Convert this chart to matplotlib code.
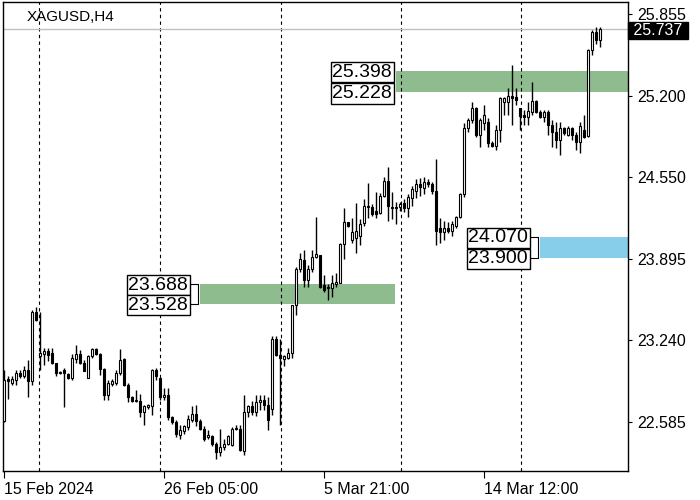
import numpy as np
import matplotlib.pyplot as plt
from matplotlib.transforms import blended_transform_factory

simbolo = "XAGUSD,H4"

# OHLC das velas H4
abertura = [22.59, 22.93, 22.90, 22.92, 22.98, 22.95, 23.00, 22.91, 23.47, 23.11,
            23.13, 23.15, 23.14, 23.06, 22.98, 23.00, 22.97, 22.94, 23.09, 23.13,
            23.06, 22.94, 23.11, 23.17, 23.13, 23.01, 22.80, 22.89, 22.90, 22.98,
            23.09, 22.88, 22.78, 22.75, 22.75, 22.66, 22.70, 22.71, 23.00, 22.94,
            22.78, 22.80, 22.62, 22.58, 22.48, 22.51, 22.54, 22.60, 22.65, 22.59,
            22.53, 22.46, 22.47, 22.41, 22.34, 22.38, 22.41, 22.40, 22.53, 22.53,
            22.35, 22.66, 22.71, 22.66, 22.74, 22.76, 22.72, 22.69, 23.25, 23.12,
            23.09, 23.10, 23.14, 23.52, 23.81, 23.88, 23.72, 23.81, 23.91, 23.92,
            23.68, 23.67, 23.66, 23.69, 23.70, 24.01, 24.19, 24.04, 24.06, 24.08,
            24.18, 24.32, 24.31, 24.28, 24.26, 24.40, 24.52, 24.31, 24.30, 24.31,
            24.34, 24.30, 24.38, 24.44, 24.49, 24.46, 24.51, 24.49, 24.44, 24.14,
            24.11, 24.14, 24.12, 24.16, 24.23, 24.41, 24.94, 25.01, 25.10, 24.89,
            24.98, 24.99, 24.82, 24.80, 24.93, 25.15, 25.15, 25.20, 25.19, 25.10,
            25.05, 25.03, 25.07, 25.16, 25.07, 25.03, 25.07, 24.97, 24.91, 24.85,
            24.94, 24.89, 24.94, 24.89, 24.83, 24.93, 24.88, 25.57, 25.71, 25.65]
maxima = [23.00, 22.95, 22.95, 23.00, 23.00, 23.03, 23.08, 23.48, 23.51, 23.47,
          23.18, 23.18, 23.18, 23.06, 22.99, 23.02, 22.98, 23.13, 23.20, 23.16,
          23.08, 23.12, 23.18, 23.18, 23.14, 23.02, 22.92, 22.93, 23.00, 23.17,
          23.10, 22.90, 22.79, 22.84, 22.81, 22.72, 22.73, 23.01, 23.02, 22.94,
          22.86, 22.86, 22.63, 22.60, 22.56, 22.56, 22.64, 22.71, 22.72, 22.61,
          22.55, 22.52, 22.48, 22.42, 22.53, 22.45, 22.48, 22.54, 22.56, 22.56,
          22.80, 22.72, 22.75, 22.80, 22.80, 22.80, 22.78, 23.27, 23.27, 23.25,
          23.12, 23.18, 23.52, 23.83, 23.94, 23.96, 23.84, 23.96, 24.23, 23.92,
          23.76, 23.69, 23.76, 23.78, 24.02, 24.30, 24.19, 24.22, 24.34, 24.21,
          24.37, 24.50, 24.33, 24.43, 24.42, 24.55, 24.63, 24.43, 24.35, 24.35,
          24.37, 24.41, 24.48, 24.53, 24.54, 24.55, 24.53, 24.51, 24.69, 24.22,
          24.20, 24.19, 24.20, 24.24, 24.42, 24.98, 25.02, 25.15, 25.11, 25.02,
          25.13, 25.02, 24.84, 24.97, 25.19, 25.19, 25.26, 25.45, 25.26, 25.10,
          25.09, 25.15, 25.31, 25.17, 25.09, 25.09, 25.09, 25.01, 24.99, 24.99,
          24.95, 24.96, 24.95, 24.91, 24.99, 25.05, 25.58, 25.73, 25.75, 25.75]
minima = [22.58, 22.77, 22.88, 22.88, 22.94, 22.94, 22.78, 22.88, 23.39, 23.00,
          23.04, 23.07, 23.05, 22.95, 22.97, 22.70, 22.93, 22.92, 23.06, 23.05,
          22.99, 22.94, 23.10, 23.12, 22.96, 22.76, 22.76, 22.87, 22.88, 22.96,
          22.87, 22.74, 22.74, 22.74, 22.62, 22.56, 22.69, 22.64, 22.92, 22.76,
          22.76, 22.60, 22.57, 22.46, 22.45, 22.49, 22.52, 22.58, 22.55, 22.52,
          22.43, 22.45, 22.39, 22.29, 22.31, 22.36, 22.40, 22.39, 22.52, 22.35,
          22.32, 22.62, 22.64, 22.63, 22.68, 22.68, 22.52, 22.64, 23.11, 22.56,
          23.03, 23.09, 23.10, 23.44, 23.79, 23.67, 23.67, 23.79, 23.90, 23.66,
          23.63, 23.56, 23.59, 23.67, 23.70, 23.89, 24.15, 24.02, 23.94, 24.00,
          24.16, 24.22, 24.24, 24.22, 24.25, 24.39, 24.20, 24.21, 24.17, 24.28,
          24.27, 24.23, 24.32, 24.38, 24.40, 24.41, 24.47, 24.41, 24.00, 24.02,
          24.04, 24.10, 24.08, 24.14, 24.22, 24.39, 24.91, 24.98, 24.87, 24.79,
          24.93, 24.79, 24.79, 24.77, 24.83, 25.05, 25.05, 24.97, 25.13, 24.93,
          24.97, 24.97, 25.05, 25.06, 25.02, 24.99, 24.89, 24.79, 24.78, 24.73,
          24.89, 24.88, 24.85, 24.77, 24.74, 24.86, 24.87, 25.53, 25.62, 25.59]
fechamento = [22.92, 22.91, 22.93, 22.98, 22.95, 23.00, 22.91, 23.47, 23.40, 23.14,
              23.15, 23.12, 23.06, 22.98, 22.98, 22.98, 22.94, 23.10, 23.13, 23.06,
              22.99, 23.11, 23.17, 23.13, 23.01, 22.80, 22.90, 22.91, 22.98, 23.08,
              22.88, 22.78, 22.75, 22.76, 22.66, 22.71, 22.72, 23.00, 22.95, 22.78,
              22.80, 22.62, 22.58, 22.49, 22.52, 22.55, 22.61, 22.65, 22.59, 22.53,
              22.45, 22.48, 22.41, 22.34, 22.38, 22.41, 22.47, 22.53, 22.53, 22.36,
              22.66, 22.71, 22.66, 22.74, 22.76, 22.72, 22.60, 23.25, 23.12, 23.10,
              23.11, 23.14, 23.52, 23.81, 23.89, 23.72, 23.81, 23.91, 23.93, 23.67,
              23.64, 23.66, 23.70, 23.71, 24.01, 24.19, 24.16, 24.11, 24.12, 24.17,
              24.32, 24.31, 24.25, 24.25, 24.40, 24.52, 24.32, 24.30, 24.30, 24.33,
              24.30, 24.39, 24.45, 24.49, 24.47, 24.51, 24.49, 24.44, 24.12, 24.11,
              24.14, 24.12, 24.17, 24.23, 24.41, 24.94, 25.01, 25.10, 24.89, 25.01,
              25.05, 24.82, 24.80, 24.93, 25.18, 25.18, 25.20, 25.18, 25.17, 25.04,
              25.03, 25.08, 25.16, 25.07, 25.03, 25.07, 24.97, 24.91, 24.85, 24.94,
              24.90, 24.94, 24.89, 24.83, 24.96, 24.87, 25.57, 25.71, 25.65, 25.737]

preco_atual = 25.737
niveis_y = [25.855, 25.200, 24.550, 23.895, 23.240, 22.585]
datas = ["15 Feb 2024", "26 Feb 05:00", "5 Mar 21:00", "14 Mar 12:00"]
datas_barra = [0, 40, 80, 120]
grade_barra = [8.75, 39, 69.25, 99.25, 129.25]

zona_sup = [25.228, 25.398]
zona_inf = [23.528, 23.688]
zona_azul = [23.900, 24.070]

o = np.array(abertura)
h = np.array(maxima)
l = np.array(minima)
c = np.array(fechamento)
x = np.arange(len(o))

fig = plt.figure(figsize=(7, 5), dpi=100)
ax = fig.add_axes([3 / 700, 29 / 500, 625 / 700, 469 / 500])
ax.set_xlim(-0.25, 156)
ax.set_ylim(22.190, 25.954)

# grade vertical tracejada
for g in grade_barra:
    ax.axvline(g, color="black", linestyle=(0, (3, 3)), linewidth=0.8, zorder=1)

# zonas
ax.fill_between([98, 156], zona_sup[0], zona_sup[1], color="#8fbc8f", linewidth=0, zorder=0.5)
ax.fill_between([49, 97.75], zona_inf[0], zona_inf[1], color="#8fbc8f", linewidth=0, zorder=0.5)
ax.fill_between([134, 156], zona_azul[0], zona_azul[1], color="#87ceeb", linewidth=0, zorder=0.5)

# linha do preco atual
ax.axhline(preco_atual, color="#c0c0c0", linewidth=1, zorder=1)

# velas
ax.vlines(x, l, h, color="black", linewidth=1, zorder=2)
alta = c >= o
corpo = np.maximum(np.abs(c - o), 0.006)
base = np.minimum(o, c)
ax.bar(x[alta], corpo[alta], bottom=base[alta], width=0.6, color="white",
       edgecolor="black", linewidth=0.8, zorder=3)
ax.bar(x[~alta], corpo[~alta], bottom=base[~alta], width=0.6, color="black",
       edgecolor="black", linewidth=0.8, zorder=3)

# rotulos das zonas
caixa = dict(boxstyle="square,pad=0.08", facecolor="white", edgecolor="black", linewidth=1)
def rotulo(xb, preco):
    ax.annotate(f"{preco:.3f}", xy=(xb, preco), xytext=(-2, -1), textcoords="offset pixels",
                ha="right", va="center", fontsize=14, family="Liberation Sans",
                bbox=caixa, zorder=5)

def conector(xb, xz, baixo, topo):
    ax.plot([xb, xz, xz, xb], [topo, topo, baixo, baixo], color="black", linewidth=0.8, zorder=4)

rotulo(97.5, zona_sup[1]); rotulo(97.5, zona_sup[0])
rotulo(46.5, zona_inf[1]); rotulo(46.5, zona_inf[0])
conector(46.5, 48.5, zona_inf[0], zona_inf[1])
rotulo(131.5, zona_azul[1]); rotulo(131.5, zona_azul[0])
conector(131.5, 133.5, zona_azul[0], zona_azul[1])

# eixos
for s in ax.spines.values():
    s.set_color("black")
    s.set_linewidth(1)
ax.yaxis.tick_right()
ax.set_yticks(niveis_y)
ax.set_yticklabels([f"{v:.3f}" for v in niveis_y])
ax.tick_params(axis="y", length=3, pad=4, labelsize=11.5, direction="out")
ax.set_xticks(datas_barra)
ax.set_xticklabels(datas)
ax.tick_params(axis="x", length=5, pad=3, labelsize=11.5, direction="out")
for t in ax.get_xticklabels() + ax.get_yticklabels():
    t.set_family("Liberation Sans")
for t in ax.get_xticklabels():
    t.set_ha("left")

trans = blended_transform_factory(ax.transAxes, ax.transData)
ax.text(1.002, preco_atual - 0.012, f" {preco_atual:.3f} ", transform=trans, ha="left",
        va="center", color="white", fontsize=11.5, family="Liberation Sans", clip_on=False,
        bbox=dict(boxstyle="square,pad=0.05", facecolor="black", edgecolor="black"))

ax.text(0.038, 0.982, simbolo, transform=ax.transAxes, ha="left", va="top",
        fontsize=11, family="Liberation Sans")

fig.savefig("out.png", dpi=100)
